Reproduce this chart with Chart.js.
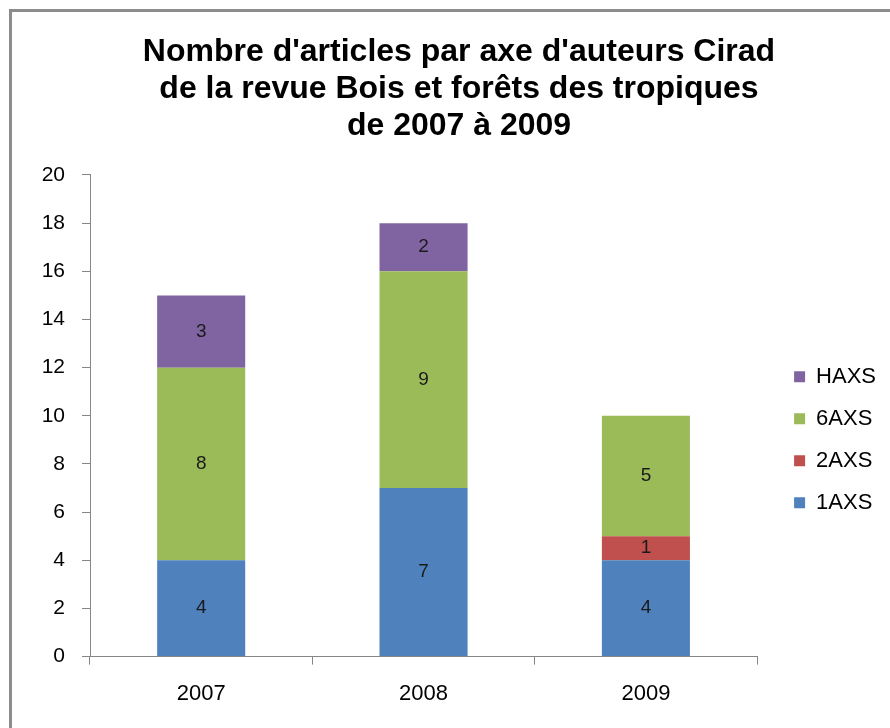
<!DOCTYPE html>
<html>
<head>
<meta charset="utf-8">
<script src="https://cdn.jsdelivr.net/npm/chart.js@4/dist/chart.umd.min.js"></script>
<style>
  html, body { margin: 0; padding: 0; background: #fff; overflow: hidden; }
  #frame { position: absolute; left: 9px; top: 9px; width: 1000px; height: 1000px;
           border-left: 3px solid #8c8c8c; border-top: 3px solid #8c8c8c; }
  #wrap { position: absolute; left: 0; top: 0; width: 890px; height: 728px; }
</style>
</head>
<body>
<div id="frame"></div>
<div id="wrap"><canvas id="chart"></canvas></div>
<script>
var years = ['2007', '2008', '2009'];
var axs1 = [4, 7, 4];
var axs2 = [0, 0, 1];
var axs6 = [8, 9, 5];
var haxs = [3, 2, 0];
var yTicks = [0, 2, 4, 6, 8, 10, 12, 14, 16, 18, 20];

var fam = "'Liberation Sans', Arial, sans-serif";

// numbers written in the middle of each segment
var segmentLabels = {
    id: 'segmentLabels',
    afterDatasetsDraw: function(chart) {
        var ctx = chart.ctx;
        ctx.save();
        ctx.font = '19px ' + fam;
        ctx.fillStyle = '#1a1a1a';
        ctx.textAlign = 'center';
        ctx.textBaseline = 'middle';
        chart.data.datasets.forEach(function(ds, i) {
            chart.getDatasetMeta(i).data.forEach(function(bar, j) {
                var v = ds.data[j];
                if (!v) return;
                var p = bar.getProps(['x', 'y', 'base'], true);
                ctx.fillText(v, p.x, (p.y + p.base) / 2);
            });
        });
        ctx.restore();
    }
};

var ctx = document.getElementById('chart').getContext('2d');
var myChart = new Chart(ctx, {
    type: 'bar',
    data: {
        labels: years,
        datasets: [
            { label: '1AXS', data: axs1, backgroundColor: '#4F81BD' },
            { label: '2AXS', data: axs2, backgroundColor: '#C0504D' },
            { label: '6AXS', data: axs6, backgroundColor: '#9BBB59' },
            { label: 'HAXS', data: haxs, backgroundColor: '#8064A2' }
        ]
    },
    options: {
        responsive: true,
        maintainAspectRatio: false,
        animation: false,
        layout: { padding: { left: 32, right: 4, top: 0, bottom: 5 } },
        datasets: {
            bar: { barPercentage: 0.396, categoryPercentage: 1, borderWidth: 0 }
        },
        scales: {
            x: {
                stacked: true,
                grid: { display: true, drawOnChartArea: false, color: '#868686', tickLength: 8, offset: true },
                border: { color: '#868686' },
                ticks: { color: '#000', font: { family: fam, size: 22 }, padding: 16 }
            },
            y: {
                stacked: true,
                min: 0,
                max: 20,
                afterFit: function(s) { s.width = 58; },
                afterBuildTicks: function(s) {
                    s.ticks = yTicks.map(function(v) { return { value: v }; });
                },
                grid: { display: true, drawOnChartArea: false, color: '#868686', tickLength: 8 },
                border: { color: '#868686' },
                ticks: { color: '#000', font: { family: fam, size: 21 }, padding: 17 }
            },
            gap: {
                type: 'linear',
                position: 'right',
                display: true,
                afterFit: function(s) { s.width = 17; },
                grid: { display: false },
                border: { display: false },
                ticks: { display: false }
            }
        },
        plugins: {
            title: {
                display: true,
                text: ["Nombre d'articles par axe d'auteurs Cirad",
                       'de la revue Bois et forêts des tropiques',
                       'de 2007 à 2009'],
                color: '#000',
                font: { family: fam, size: 32, weight: 'bold', lineHeight: 1.156 },
                padding: { top: 34, bottom: 30 }
            },
            legend: {
                position: 'right',
                fullSize: false,
                reverse: true,
                title: { display: true, text: '', font: { size: 10, lineHeight: 1.2 }, padding: { top: 36, bottom: 0 } },
                labels: {
                    color: '#000',
                    font: { family: fam, size: 22 },
                    boxWidth: 11,
                    boxHeight: 11,
                    padding: 20
                }
            },
            tooltip: { enabled: false }
        }
    },
    plugins: [segmentLabels]
});
</script>
</body>
</html>
